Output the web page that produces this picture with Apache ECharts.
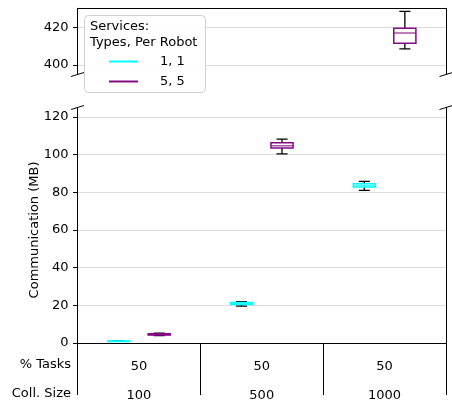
<!DOCTYPE html>
<html>
<head>
<meta charset="utf-8">
<script src="https://cdn.jsdelivr.net/npm/echarts@6/dist/echarts.min.js"></script>
<style>
  html, body { margin: 0; padding: 0; background: #fff; }
  #chart { width: 452px; height: 404px; }
</style>
</head>
<body>
<div id="chart"></div>
<script>
// Category rows shown under the plot
const tasksPct = ['50', '50', '50'];
const collSize = ['100', '500', '1000'];

// Box statistics per collection size: [min, q1, median, q3, max] (MB)
const svc11 = [
  [0.85, 0.9, 1.0, 1.1, 1.15],
  [19.6, 20.5, 21.0, 21.5, 22.0],
  [81.0, 82.8, 83.6, 84.5, 85.8]
];
const svc55 = [
  [3.9, 4.3, 4.6, 4.9, 5.3],
  [100.4, 103.5, 104.7, 106.2, 108.2],
  [408.5, 411.5, 417.0, 419.5, 428.4]
];

// Axis ranges and tick labels for the broken y axis
const upperRange = [395, 430];
const upperTicks = [400, 420];
const lowerRange = [-5, 125];
const lowerTicks = [0, 20, 40, 60, 80, 100, 120];

const seriesNames = ['1, 1', '5, 5'];
const seriesColors = ['#00ffff', '#850a85'];

const FONT = 'DejaVu Sans';
const BOX_FRAC = 0.18;    // box width as a fraction of the category band
const SHIFT_FRAC = 0.165; // horizontal shift of each series inside the band

function toRows(stats) {
  return stats.map((s, i) => [i].concat(s));
}

function makeRenderer(color, side) {
  return function (params, api) {
    const cat = api.value(0);
    const band = api.size([1, 0])[0];
    const w = band * BOX_FRAC;
    const cx = api.coord([cat, 0])[0] + side * band * SHIFT_FRAC;
    const y = (k) => api.coord([cat, api.value(k)])[1];
    const yMin = y(1), yQ1 = y(2), yMed = y(3), yQ3 = y(4), yMax = y(5);
    const capHalf = w / 4;
    const black = { stroke: '#000', lineWidth: 1.3, fill: null };
    return {
      type: 'group',
      children: [
        { type: 'line', shape: { x1: cx, y1: yQ1, x2: cx, y2: yMin }, style: black },
        { type: 'line', shape: { x1: cx, y1: yQ3, x2: cx, y2: yMax }, style: black },
        { type: 'line', shape: { x1: cx - capHalf, y1: yMin, x2: cx + capHalf, y2: yMin }, style: black },
        { type: 'line', shape: { x1: cx - capHalf, y1: yMax, x2: cx + capHalf, y2: yMax }, style: black },
        { type: 'rect', shape: { x: cx - w / 2, y: yQ3, width: w, height: yQ1 - yQ3 },
          style: { stroke: color, lineWidth: 1.5, fill: null } },
        { type: 'line', shape: { x1: cx - w / 2, y1: yMed, x2: cx + w / 2, y2: yMed },
          style: { stroke: color, lineWidth: 1.5, opacity: 0.7 } }
      ]
    };
  };
}

const statsList = [svc11, svc55];
const series = [];
[0, 1].forEach((gridIdx) => {
  statsList.forEach((stats, k) => {
    series.push({
      name: seriesNames[k],
      type: 'custom',
      xAxisIndex: gridIdx,
      yAxisIndex: gridIdx * 2,
      clip: true,
      itemStyle: { color: seriesColors[k] },
      renderItem: makeRenderer(seriesColors[k], k === 0 ? -1 : 1),
      encode: { x: 0, y: [1, 2, 3, 4, 5] },
      data: toRows(stats),
      z: 3
    });
  });
});

const axisLabelStyle = { color: '#000', fontFamily: FONT, fontSize: 13 };
const spine = { show: true, lineStyle: { color: '#000', width: 1 } };

function leftY(gridIndex, range, ticks) {
  return {
    type: 'value', gridIndex, min: range[0], max: range[1],
    axisLine: spine,
    axisTick: { show: true, length: 4.5, customValues: ticks, lineStyle: { color: '#000' } },
    axisLabel: Object.assign({ customValues: ticks, margin: 9 }, axisLabelStyle),
    splitLine: { show: true, lineStyle: { color: '#dcdcdc', width: 1 } }
  };
}
function rightY(gridIndex, range) {
  return {
    type: 'value', gridIndex, position: 'right', min: range[0], max: range[1],
    axisLine: spine, axisTick: { show: false }, axisLabel: { show: false },
    splitLine: { show: false }
  };
}

const lowerLeft = leftY(1, lowerRange, lowerTicks);
lowerLeft.name = 'Communication (MB)';
lowerLeft.nameLocation = 'middle';
lowerLeft.nameGap = 36;
lowerLeft.nameMoveOverlap = false;
lowerLeft.nameTextStyle = { color: '#000', fontFamily: FONT, fontSize: 13 };

const chart = echarts.init(document.getElementById('chart'), null, { renderer: 'canvas' });
chart.setOption({
  animation: false,
  backgroundColor: '#fff',
  textStyle: { fontFamily: FONT },
  grid: [
    { left: 77.5, top: 8.3, width: 368.5, height: 66.2 },
    { left: 77.5, top: 107.4, width: 368.5, height: 245.1 }
  ],
  xAxis: [
    {
      type: 'category', gridIndex: 0, position: 'top', data: tasksPct,
      axisLine: spine, axisTick: { show: false }, axisLabel: { show: false },
      splitLine: { show: false }
    },
    {
      type: 'category', gridIndex: 1, position: 'bottom', data: tasksPct,
      axisLine: spine,
      axisTick: { show: true, length: 52, lineStyle: { color: '#000', width: 1 } },
      axisLabel: {
        margin: 6,
        formatter: (v, i) => '{a|' + v + '}\n{b|' + collSize[i] + '}',
        rich: {
          a: { fontFamily: FONT, fontSize: 13, color: '#000', lineHeight: 16 },
          b: { fontFamily: FONT, fontSize: 13, color: '#000', lineHeight: 42 }
        }
      },
      splitLine: { show: false }
    }
  ],
  yAxis: [
    leftY(0, upperRange, upperTicks),
    rightY(0, upperRange),
    lowerLeft,
    rightY(1, lowerRange)
  ],
  legend: {
    left: 104, top: 49, orient: 'vertical',
    itemWidth: 29, itemHeight: 2, itemGap: 5,
    icon: 'rect',
    data: seriesNames,
    textStyle: { color: '#000', fontFamily: FONT, fontSize: 13, lineHeight: 15, padding: [0, 0, 0, 17] },
    z: 20
  },
  graphic: [
    // legend frame and title
    { type: 'rect', z: 15, shape: { x: 84.5, y: 15.5, width: 121, height: 77, r: 4 },
      style: { fill: 'rgba(255,255,255,0.9)', stroke: '#d0d0d0', lineWidth: 1 } },
    { type: 'text', z: 16, left: 90, top: 19,
      style: { text: 'Services:\nTypes, Per Robot', fill: '#000', font: '13px "DejaVu Sans"', lineHeight: 15.5 } },
    // broken-axis marks
    { type: 'line', z: 10, shape: { x1: 71, y1: 76.5, x2: 84, y2: 72.5 }, style: { stroke: '#000', lineWidth: 1 } },
    { type: 'line', z: 10, shape: { x1: 439.5, y1: 76.5, x2: 452.5, y2: 72.5 }, style: { stroke: '#000', lineWidth: 1 } },
    { type: 'line', z: 10, shape: { x1: 71, y1: 109.5, x2: 84, y2: 105.5 }, style: { stroke: '#000', lineWidth: 1 } },
    { type: 'line', z: 10, shape: { x1: 439.5, y1: 109.5, x2: 452.5, y2: 105.5 }, style: { stroke: '#000', lineWidth: 1 } },
    // row titles of the category table
    { type: 'text', z: 10, right: 452 - 71, top: 358,
      style: { text: '% Tasks', fill: '#000', font: '13px "DejaVu Sans"', textAlign: 'right' } },
    { type: 'text', z: 10, right: 452 - 71, top: 387,
      style: { text: 'Coll. Size', fill: '#000', font: '13px "DejaVu Sans"', textAlign: 'right' } }
  ],
  series: series
});
</script>
</body>
</html>
